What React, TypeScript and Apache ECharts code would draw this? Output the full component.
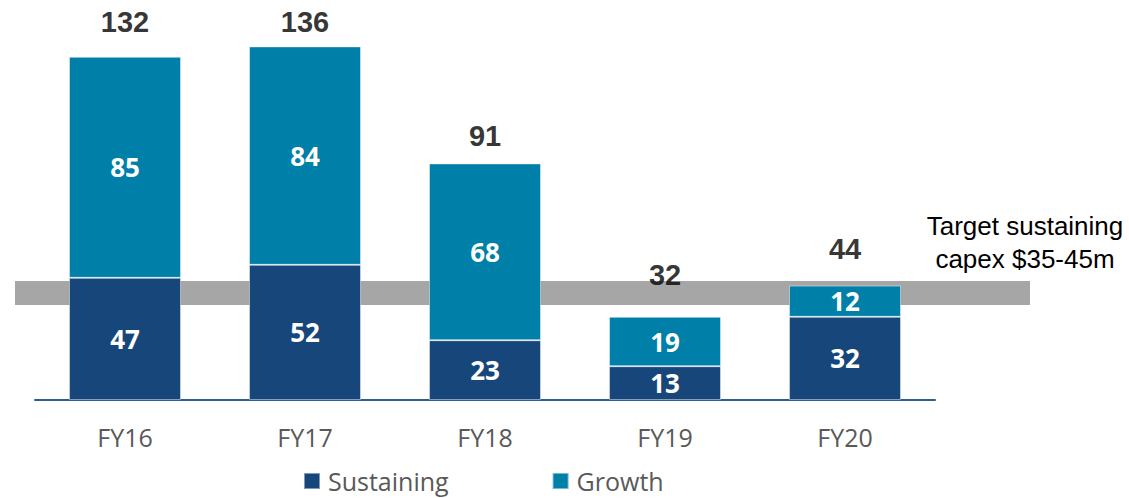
import React, { useEffect, useRef } from "react";
import * as echarts from "echarts";

const categories = ["FY16", "FY17", "FY18", "FY19", "FY20"];
const sustaining = [47, 52, 23, 13, 32];
const growth = [85, 84, 68, 19, 12];
const totals = [132, 136, 91, 32, 44];
const targetBand = [36.5, 45.8];
const targetText = ["Target sustaining", "capex $35-45m"];

// vertical lift (px) of each total label above its bar
const totalLabelLift = [20, 9, 12, 27, 22];

const SUST_COLOR = "#17477a";
const GROWTH_COLOR = "#0080a8";

export default function App() {
  const ref = useRef<HTMLDivElement>(null);
  useEffect(() => {
    const chart = echarts.init(ref.current!, null, { renderer: "svg" });
    chart.setOption({
      animation: false,
      grid: { left: 35, right: 194, top: 10, bottom: 98 },
      legend: {
        data: ["Sustaining", "Growth"],
        left: 298,
        top: 463,
        itemWidth: 16,
        itemHeight: 16,
        itemGap: 103,
        icon: "rect",
        textStyle: {
          fontFamily: "Open Sans",
          fontSize: 25,
          lineHeight: 26,
          color: "#595959",
          padding: [0, 0, 0, 3],
        },
      },
      xAxis: {
        type: "category",
        data: categories,
        axisLine: { show: true, lineStyle: { color: "#2e5e8e", width: 2 } },
        axisTick: { show: false },
        axisLabel: {
          margin: 24,
          fontFamily: "Open Sans",
          fontSize: 25,
          color: "#595959",
        },
      },
      yAxis: {
        type: "value",
        min: 0,
        max: 150,
        show: false,
        splitLine: { show: false },
      },
      series: [
        {
          name: "Sustaining",
          type: "bar",
          stack: "capex",
          barWidth: 112,
          data: sustaining,
          itemStyle: {
            color: SUST_COLOR,
            borderColor: "rgba(255,255,255,0.45)",
            borderWidth: 1,
          },
          label: {
            show: true,
            position: "inside",
            color: "#fff",
            fontFamily: "Open Sans",
            fontWeight: "bold",
            fontSize: 26,
          },
          z: 3,
        },
        {
          name: "Growth",
          type: "bar",
          stack: "capex",
          barWidth: 112,
          data: growth,
          itemStyle: {
            color: GROWTH_COLOR,
            borderColor: "rgba(255,255,255,0.45)",
            borderWidth: 1,
          },
          label: {
            show: true,
            position: "inside",
            color: "#fff",
            fontFamily: "Open Sans",
            fontWeight: "bold",
            fontSize: 26,
          },
          z: 3,
        },
        {
          name: "Total",
          type: "scatter",
          symbolSize: 1,
          itemStyle: { color: "transparent" },
          data: totals.map((v, i) => ({
            value: v,
            label: { offset: [0, -totalLabelLift[i]] },
          })),
          label: {
            show: true,
            position: "top",
            distance: 0,
            color: "#000",
            fontFamily: "Liberation Sans",
            fontWeight: "bold",
            fontSize: 29,
          },
          z: 4,
        },
      ],
    });

    const yTop = chart.convertToPixel({ yAxisIndex: 0 }, targetBand[1]) as number;
    const yBot = chart.convertToPixel({ yAxisIndex: 0 }, targetBand[0]) as number;
    chart.setOption({
      graphic: [
        {
          type: "rect",
          z: 0,
          shape: { x: 15, y: yTop, width: 1015, height: yBot - yTop },
          style: { fill: "#a6a6a6" },
          silent: true,
        },
        {
          type: "text",
          z: 5,
          x: 1025,
          y: 242,
          style: {
            text: targetText.join("\n"),
            fontFamily: "Liberation Sans",
            fontSize: 26,
            lineHeight: 33,
            fill: "#000",
            align: "center",
            verticalAlign: "middle",
          },
        },
      ],
    });
    return () => chart.dispose();
  }, []);
  return (
    <div
      ref={ref}
      style={{ position: "absolute", left: 0, top: 0, width: 1129, height: 498 }}
    />
  );
}
